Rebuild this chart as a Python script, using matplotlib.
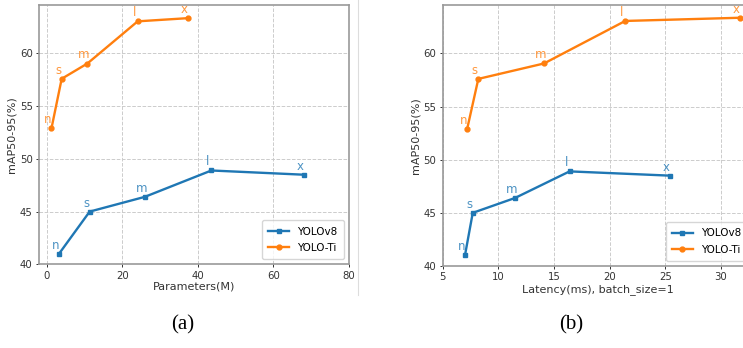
import matplotlib
matplotlib.use("Agg")
import matplotlib.pyplot as plt

labels = ["n", "s", "m", "l", "x"]

# Panel (a): parameters (M)
v8_params = [3.3, 11.4, 26.0, 43.6, 68.0]
ti_params = [1.3, 4.0, 10.8, 24.1, 37.3]
# Panel (b): latency (ms)
v8_lat = [7.0, 7.7, 11.5, 16.4, 25.4]
ti_lat = [7.2, 8.2, 14.1, 21.4, 31.7]
# mAP
v8_map = [41.0, 45.0, 46.4, 48.9, 48.5]
ti_map = [52.9, 57.6, 59.05, 63.05, 63.35]

BLUE = "#1f77b4"
ORANGE = "#ff7f0e"

fig = plt.figure(figsize=(7.43, 3.48), dpi=100)
plt.rcParams['font.family'] = ['DejaVu Sans']

ax1 = fig.add_axes([39/743, 1-264.3/348, 310/743, (264.3-5)/348])
ax2 = fig.add_axes([442.7/743, 1-266/348, 310/743, (266-5)/348])

def style(ax):
    ax.grid(True, linestyle="--", color="#cccccc", linewidth=0.7)
    ax.set_axisbelow(True)
    for s in ax.spines.values():
        s.set_color("#999999")
        s.set_linewidth(1.2)
    ax.tick_params(labelsize=7.3, colors="#333333", length=2.5, width=0.7, pad=2)
    ax.set_ylabel("mAP50-95(%)", fontsize=8, color="#333333", labelpad=2)
    ax.set_yticks([40, 45, 50, 55, 60])

def plot(ax, xv8, xti):
    ax.plot(xv8, v8_map, color=BLUE, marker="s", markersize=3.5, linewidth=1.7, label="YOLOv8")
    ax.plot(xti, ti_map, color=ORANGE, marker="o", markersize=3.5, linewidth=1.7, label="YOLO-Ti")
    for xs, ys, c in [(xv8, v8_map, BLUE), (xti, ti_map, ORANGE)]:
        for lab, x, y in zip(labels, xs, ys):
            ax.annotate(lab, (x, y), xytext=(-2.5, 1.5), textcoords="offset points",
                        ha="center", va="bottom", fontsize=8.5, color=c, alpha=0.8)

plot(ax1, v8_params, ti_params)
style(ax1)
ax1.set_xlim(-2, 80)
ax1.set_ylim(40, 64.6)
ax1.set_xticks([0, 20, 40, 60, 80])
ax1.set_xlabel("Parameters(M)", fontsize=8, color="#333333", labelpad=1)
ax1.legend(loc="lower right", fontsize=7.5, handlelength=2.0, borderpad=0.6, labelspacing=0.6)

plot(ax2, v8_lat, ti_lat)
style(ax2)
ax2.set_xlim(5, 32.85)
ax2.set_ylim(40, 64.55)
ax2.set_xticks([5, 10, 15, 20, 25, 30])
ax2.set_xlabel("Latency(ms), batch_size=1", fontsize=8, color="#333333", labelpad=1)
ax2.legend(loc="lower right", fontsize=7.5, handlelength=2.0, borderpad=0.6, labelspacing=0.6)

# separator line
fig.add_artist(plt.Line2D([358/743, 358/743], [1-295/348, 1.0], color="#dddddd", linewidth=0.8))

fig.text(183/743, 1-325/348, "(a)", ha="center", va="center", fontsize=15, family="Liberation Serif")
fig.text(571/743, 1-325/348, "(b)", ha="center", va="center", fontsize=15, family="Liberation Serif")

fig.savefig("out.png", dpi=100)
